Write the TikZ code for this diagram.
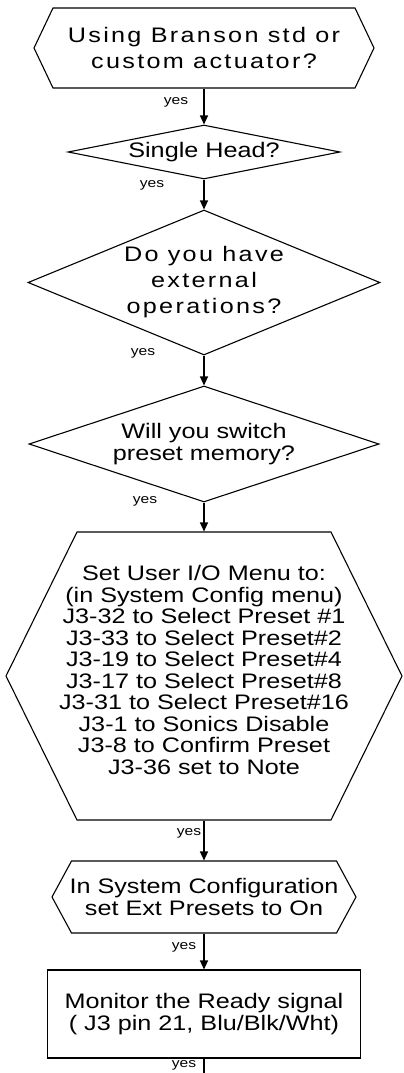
\documentclass[tikz,border=0pt]{standalone}
\usepackage{fontspec}
\newfontfamily\flowfont[FakeStretch=1.2]{Liberation Sans}
\newfontfamily\wideflowfont[FakeStretch=1.2,LetterSpace=11]{Liberation Sans}
\usetikzlibrary{arrows.meta,shapes.geometric}
% hexagon outline round a node: name, half inner width, half height, point length
\newcommand\hexframe[4]{\draw ([shift={(-#2,-#3)}]#1.center) -- ([shift={(#2,-#3)}]#1.center) -- ([shift={(#2+#4,0)}]#1.center) -- ([shift={(#2,#3)}]#1.center) -- ([shift={(-#2,#3)}]#1.center) -- ([shift={(-#2-#4,0)}]#1.center) -- cycle;}

\begin{document}
\begin{tikzpicture}[x=1pt,y=-1pt,>={Triangle[length=9pt,width=8pt]},
 every path/.style={line width=1.1pt},
 txt/.style={align=center,inner sep=0pt,font=\flowfont\fontsize{21}{21.5}\selectfont},
 widetxt/.style={align=center,inner sep=0pt,font=\wideflowfont\fontsize{21}{26}\selectfont},
 ask/.style={draw,diamond},
 yeslbl/.style={font=\flowfont\fontsize{13}{13}\selectfont,inner sep=0pt}]
\useasboundingbox (0,0) rectangle (404,1073);
\node[widetxt,minimum height=80pt] (act) at (204,48) {Using Branson std or\\custom actuator?};
\node[ask,txt,aspect=5.04,minimum width=272pt,minimum height=54pt] (head) at (204,152) {Single Head?};
\node[ask,widetxt,aspect=2.43,minimum width=352pt,minimum height=145pt] (extop) at (204,282.5) {Do you have\\external\\operations?};
\node[ask,txt,aspect=3,minimum width=350pt,minimum height=116pt] (preset) at (204,444) {Will you switch\\preset memory?};
\node[txt,minimum height=288pt] (userio) at (204,676) {Set User I/O Menu to:\\(in System Config menu)\\J3-32 to Select Preset \#1\\J3-33 to Select Preset\#2\\J3-19 to Select Preset\#4\\J3-17 to Select Preset\#8\\J3-31 to Select Preset\#16\\J3-1 to Sonics Disable\\J3-8 to Confirm Preset\\J3-36 set to Note\\[-9.5pt]};
\node[txt,minimum height=72pt] (extpre) at (204,897) {In System Configuration\\set Ext Presets to On};
\node[draw,txt,minimum width=313pt,minimum height=88pt] (mon) at (204,1014) {Monitor the Ready signal\\( J3 pin 21, Blu/Blk/Wht)};
\coordinate (out) at (204,1073);
\hexframe{act}{151}{40}{19}
\hexframe{userio}{127}{144}{71}
\hexframe{extpre}{132.5}{36}{19.5}
\node[yeslbl] (y1) at (176,102) {yes};
\node[yeslbl] (y2) at (152,185) {yes};
\node[yeslbl] (y3) at (143,353) {yes};
\node[yeslbl] (y4) at (145,501) {yes};
\node[yeslbl] (y5) at (189,833) {yes};
\node[yeslbl] (y6) at (184,947) {yes};
\node[yeslbl] (y7) at (184,1065) {yes};
\draw[->] (act) -- (head);
\draw[->] (head) -- (extop);
\draw[->] (extop) -- (preset);
\draw[->] (preset) -- (userio);
\draw[->] (userio) -- (extpre);
\draw[->] (extpre) -- (mon);
\draw (mon) -- (out);
\end{tikzpicture}
\end{document}
